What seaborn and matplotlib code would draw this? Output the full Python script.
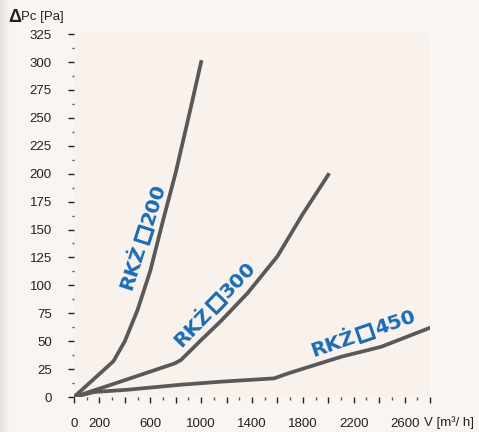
import numpy as np
import pandas as pd
import seaborn as sns
import matplotlib.pyplot as plt
import matplotlib.patheffects as pe
from matplotlib.transforms import offset_copy
from matplotlib.ticker import MultipleLocator

# data (V in m3/h, dPc in Pa)
v_200 = [0, 310, 400, 500, 600, 700, 800, 900, 1000]
p_200 = [0, 32, 50, 78, 113, 158, 201, 250, 300]

v_300 = [0, 240, 790, 840, 1000, 1155, 1365, 1600, 1800, 2000]
p_300 = [0, 9, 30, 33, 51, 68, 93, 126, 164, 199]

v_450 = [0, 160, 420, 840, 1155, 1575, 1680, 2100, 2417, 2800]
p_450 = [0, 4.5, 6.5, 11, 13.7, 16.7, 21, 36, 45, 62]

series_names = ['RKŻ□200', 'RKŻ□300', 'RKŻ□450']
label_pos = [(533, 144, 72), (1100, 84, 46), (2273, 58, 19)]

y_ticks = list(range(0, 326, 25))
x_ticks = list(range(0, 2801, 200))
x_tick_labels = ['0', '200', '', '600', '', '1000', '', '1400', '', '1800', '', '2200', '', '2600', '']

df = pd.concat([
    pd.DataFrame({'V': v_200, 'dP': p_200, 'typ': series_names[0]}),
    pd.DataFrame({'V': v_300, 'dP': p_300, 'typ': series_names[1]}),
    pd.DataFrame({'V': v_450, 'dP': p_450, 'typ': series_names[2]}),
])

plt.rcParams['font.family'] = ['Liberation Sans', 'DejaVu Sans']

fig = plt.figure(figsize=(4.79, 4.32), dpi=100)
fig.patch.set_facecolor('#f9f5f2')

# grey strip on the left edge
strip = fig.add_axes([0, 0, 10 / 479, 1])
strip.imshow(np.linspace(0, 1, 50).reshape(1, -1), cmap=sns.blend_palette(['#e2e2e2', '#f9f5f2'], as_cmap=True),
             aspect='auto', extent=[0, 1, 0, 1])
strip.axis('off')

ax = fig.add_axes([74 / 479, 35 / 432, 356 / 479, 364 / 432])
ax.set_facecolor('#f8f1ec')

sns.lineplot(data=df, x='V', y='dP', hue='typ', palette=['#595959'] * 3, sort=False,
             estimator=None, linewidth=2.7, legend=False, ax=ax)

# curve labels: "RKŻ" + bold-looking square + size, laid out along a rotated baseline
blue = '#1a6cb5'
lab_font = dict(color=blue, fontsize=14.5, fontweight='bold', family='DejaVu Sans')
sq_font = dict(color=blue, fontsize=14.5, family='DejaVu Sans',
               path_effects=[pe.Stroke(linewidth=1.4, foreground=blue), pe.Normal()])
renderer = fig.canvas.get_renderer()


def text_width(s, kw):
    t = fig.text(0, 0, s, **kw)
    w = t.get_window_extent(renderer).width
    t.remove()
    return w


for name, (lx, ly, rot) in zip(series_names, label_pos):
    parts = [(name[:3], lab_font), (name[3], sq_font), (name[4:], lab_font)]
    widths = [text_width(s, kw) for s, kw in parts]
    gap = 1.5
    total = sum(widths) + gap * 2
    th = np.deg2rad(rot)
    drop = 7  # baseline sits below the label centre
    s = -total / 2
    for (txt, kw), w in zip(parts, widths):
        dx = s * np.cos(th) + drop * np.sin(th)
        dy = s * np.sin(th) - drop * np.cos(th)
        tr = offset_copy(ax.transData, fig=fig, x=dx, y=dy, units='dots')
        ax.text(lx, ly, txt, transform=tr, rotation=rot, rotation_mode='anchor',
                ha='left', va='baseline', **kw)
        s += w + gap

ax.set_xlim(0, 2800)
ax.set_ylim(0, 326)
for sp in ax.spines.values():
    sp.set_visible(False)

ax.set_yticks(y_ticks)
ax.yaxis.set_minor_locator(MultipleLocator(12.5))
ax.set_xticks(x_ticks)
ax.set_xticklabels(x_tick_labels)
ax.xaxis.set_minor_locator(MultipleLocator(100))
ax.tick_params(axis='y', which='major', length=4, width=1, color='#222222', pad=12, labelsize=9.5, labelcolor='#222222')
ax.tick_params(axis='y', which='minor', length=1.5, width=1, color='#555555')
ax.tick_params(axis='x', which='major', length=4, width=1, color='#222222', pad=11, labelsize=9.5, labelcolor='#222222')
ax.tick_params(axis='x', which='minor', length=2, width=1, color='#555555')
ax.set_xlabel('')
ax.set_ylabel('')

fig.text(8 / 479, 1 - 17 / 432, 'Δ', fontsize=13, fontweight='bold', color='#222222', va='center', ha='left')
fig.text(21 / 479, 1 - 17 / 432, 'Pc [Pa]', fontsize=9.5, color='#222222', va='center', ha='left')
fig.text(424 / 479, 1 - 423 / 432, 'V [m³/ h]', fontsize=9.5, color='#222222', va='center', ha='left')

fig.savefig('out.png', dpi=100, facecolor=fig.get_facecolor())
